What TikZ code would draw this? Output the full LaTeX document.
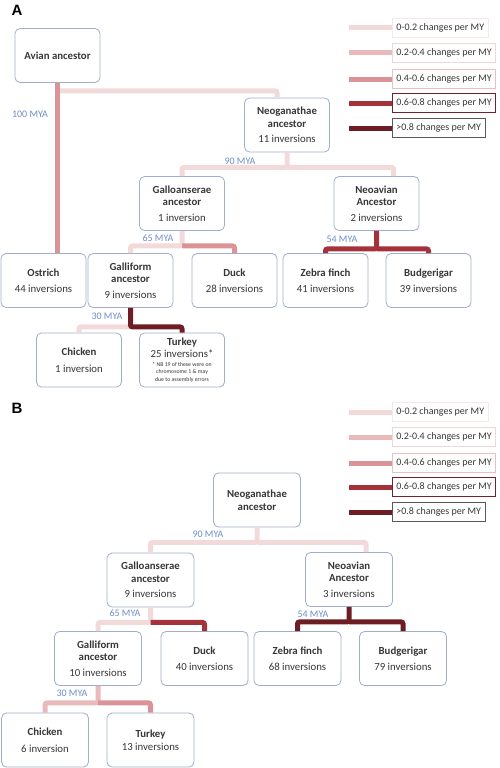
\documentclass[tikz,border=0pt]{standalone}
\usepackage{fontspec}
\setmainfont{Carlito}
\newfontfamily\panelfont{Liberation Sans}
\usepackage{xcolor}
\usepackage{tikz}
\usetikzlibrary{positioning}
\definecolor{rateA}{RGB}{242,218,219}
\definecolor{rateB}{RGB}{232,186,188}
\definecolor{rateC}{RGB}{218,148,151}
\definecolor{rateD}{RGB}{165,50,59}
\definecolor{rateE}{RGB}{109,30,36}
\definecolor{boxLine}{RGB}{160,174,205}
\definecolor{txtGray}{RGB}{55,55,55}
\definecolor{myaBlue}{RGB}{110,140,200}
\newcommand{\nbfont}{\fontsize{5.8}{7}\selectfont}

\begin{document}
\begin{tikzpicture}[x=1pt, y=-1pt,
  taxon/.style={draw=boxLine, line width=0.8pt, rounded corners=5pt, fill=white,
                align=center, minimum width=85pt, minimum height=54pt,
                text=txtGray, font=\fontsize{10.8}{12.5}\selectfont},
  branch/.style={line width=5pt, rounded corners=2pt},
  mya/.style={text=myaBlue, font=\fontsize{10}{11}\selectfont, inner sep=1pt},
  keybox/.style={draw=#1, line width=0.8pt, fill=white, anchor=west,
                 minimum height=19pt, inner xsep=4pt, text=txtGray,
                 font=\fontsize{10}{11}\selectfont},
  swatch/.style={fill=#1, minimum width=43pt, minimum height=5pt, inner sep=0pt},
  panel/.style={font=\panelfont\bfseries\fontsize{15}{15}\selectfont, inner sep=0pt}]
\useasboundingbox (0,0) rectangle (499,768);

% Panel letters
\node[panel] (letA) at (17,10) {A};
\node[panel] (letB) at (17,408) {B};

% Rate keys, one per panel
\foreach \p/\off in {A/0, B/384}
{
  \foreach \n/\y/\c/\bc/\txt in {
     1/28/rateA/rateA!60/{0-0.2 changes per MY},
     2/53/rateB/rateB!60/{0.2-0.4 changes per MY},
     3/79/rateC/rateC!60/{0.4-0.6 changes per MY},
     4/103/rateD/rateD!70!black/{0.6-0.8 changes per MY},
     5/128/rateE/black!65/{>0.8 changes per MY}}
  {
    \node[keybox=\bc] (key\p\n) at (392,{\y+\off}) {\txt};
    \node[swatch=\c, left=0pt of key\p\n] (sw\p\n) {};
  }
}

% Panel A tree
\node[taxon] (avianA) at (57.5,55.5) {\textbf{Avian ancestor}};
\node[taxon] (neoA) at (287,125) {\textbf{Neoganathae}\\\textbf{ancestor}\\[3pt]11 inversions};
\node[taxon] (galloA) at (182,203.5) {\textbf{Galloanserae}\\\textbf{ancestor}\\[3pt]1 inversion};
\node[taxon] (neoavA) at (376.5,203.5) {\textbf{Neoavian}\\\textbf{Ancestor}\\[3pt]2 inversions};
\node[taxon] (ostrichA) at (43.5,280.5) {\textbf{Ostrich}\\[4pt]44 inversions};
\node[taxon] (galliA) at (130.5,280.5) {\textbf{Galliform}\\\textbf{ancestor}\\[3pt]9 inversions};
\node[taxon] (duckA) at (234.5,280.5) {\textbf{Duck}\\[4pt]28 inversions};
\node[taxon] (zebraA) at (325.5,280.5) {\textbf{Zebra finch}\\[4pt]41 inversions};
\node[taxon] (budgA) at (428.5,280.5) {\textbf{Budgerigar}\\[4pt]39 inversions};
\node[taxon] (chickenA) at (79,360) {\textbf{Chicken}\\[4pt]1 inversion};
\node[taxon, inner sep=2pt] (turkeyA) at (182,360) {\textbf{Turkey}\\[-1pt]25 inversions*\\[-3.5pt]\nbfont * NB 19 of these were on\\[-5pt]\nbfont chromosome 1 \& may\\[-5pt]\nbfont due to assembly errors};

\draw[branch, rateA] (avianA.south) ++(0,8) -| ([xshift=-10pt]neoA.north);
\draw[branch, rateC] (avianA.south) -- (avianA.south |- ostrichA.north);
\draw[branch, rateA] (neoA.south) -- ++(0,15) -| (galloA.north);
\draw[branch, rateA] (neoA.south) ++(0,15) -| ([xshift=17pt]neoavA.north);
\draw[branch, rateA] (galloA.south) -- ++(0,15) -| (galliA.north);
\draw[branch, rateC] (galloA.south) ++(0,15) -| (duckA.north);
\draw[branch, rateD] (neoavA.south) -- ++(0,18) -| (zebraA.north);
\draw[branch, rateD] (neoavA.south) ++(0,18) -| (budgA.north);
\draw[branch, rateA] (galliA.south) ++(0,19) -| (chickenA.north);
\draw[branch, rateE] (galliA.south) -- ++(0,19) -| (turkeyA.north);

\node[mya] (myaA100) at (30,114) {100 MYA};
\node[mya] (myaA90) at (240,161) {90 MYA};
\node[mya] (myaA65) at (158,238) {65 MYA};
\node[mya] (myaA54) at (342,239) {54 MYA};
\node[mya] (myaA30) at (107,316) {30 MYA};

% Panel B tree
\begin{scope}[taxon/.append style={minimum width=87pt}]
\node[taxon] (neoB) at (257,500) {\textbf{Neoganathae}\\\textbf{ancestor}};
\node[taxon] (galloB) at (150.5,580) {\textbf{Galloanserae}\\\textbf{ancestor}\\[3pt]9 inversions};
\node[taxon] (neoavB) at (349,579.5) {\textbf{Neoavian}\\\textbf{Ancestor}\\[3pt]3 inversions};
\node[taxon] (galliB) at (98,658.5) {\textbf{Galliform}\\\textbf{ancestor}\\[3pt]10 inversions};
\node[taxon] (duckB) at (204.5,658.5) {\textbf{Duck}\\[4pt]40 inversions};
\node[taxon] (zebraB) at (297.5,658.5) {\textbf{Zebra finch}\\[4pt]68 inversions};
\node[taxon] (budgB) at (403,658.5) {\textbf{Budgerigar}\\[4pt]79 inversions};
\node[taxon] (chickenB) at (45,740) {\textbf{Chicken}\\[4pt]6 inversion};
\node[taxon] (turkeyB) at (150.5,740) {\textbf{Turkey}\\13 inversions};
\end{scope}

\draw[branch, rateA] (neoB.south) -- ++(0,15) -| (galloB.north);
\draw[branch, rateA] (neoB.south) ++(0,15) -| ([xshift=17pt]neoavB.north);
\draw[branch, rateA] (galloB.south) -- ++(0,15) -| (galliB.north);
\draw[branch, rateD] (galloB.south) ++(0,15) -| (duckB.north);
\draw[branch, rateE] (neoavB.south) -- ++(0,15) -| (zebraB.north);
\draw[branch, rateE] (neoavB.south) ++(0,15) -| (budgB.north);
\draw[branch, rateB] (galliB.south) -- ++(0,17) -| (chickenB.north);
\draw[branch, rateC] (galliB.south) ++(0,17) -| (turkeyB.north);

\node[mya] (myaB90) at (208,534) {90 MYA};
\node[mya] (myaB65) at (125,613) {65 MYA};
\node[mya] (myaB54) at (313,614) {54 MYA};
\node[mya] (myaB30) at (72,693) {30 MYA};

\end{tikzpicture}
\end{document}
